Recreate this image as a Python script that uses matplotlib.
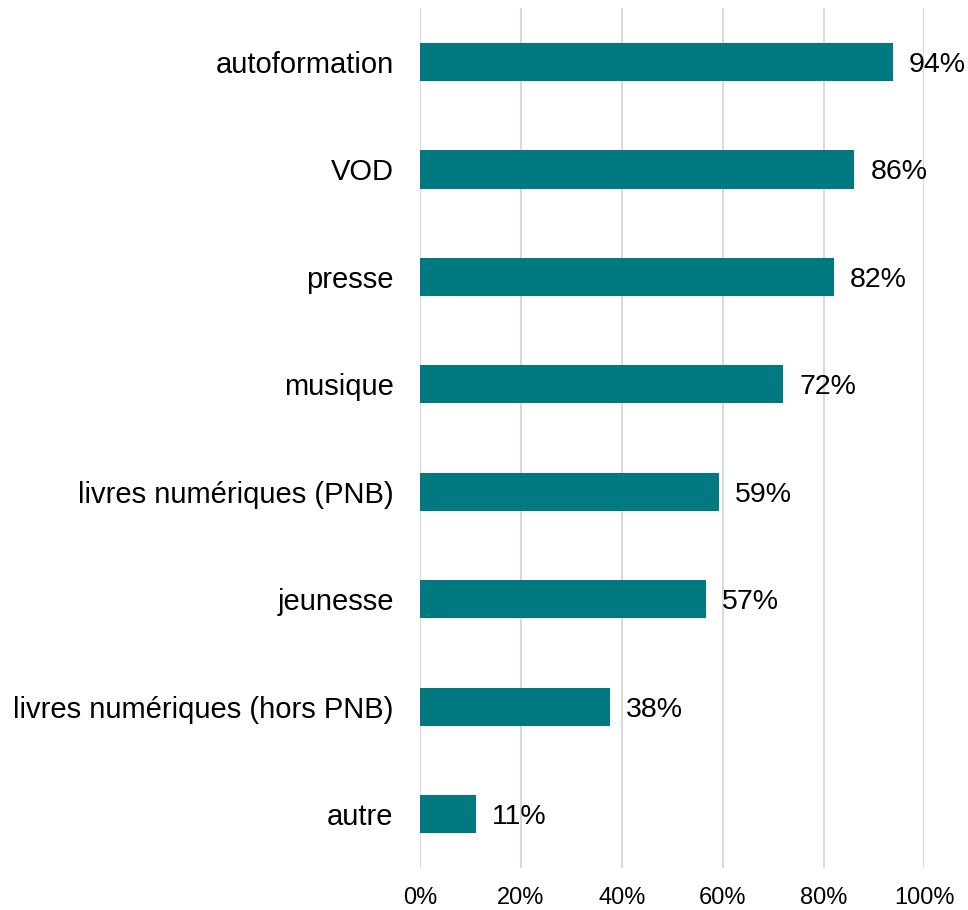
import matplotlib.pyplot as plt

plt.rcParams['font.family'] = ['Liberation Sans', 'DejaVu Sans']

# données (en %)
categories = ["autoformation", "VOD", "presse", "musique",
              "livres numériques (PNB)", "jeunesse",
              "livres numériques (hors PNB)", "autre"]
values = [93.7, 86.1, 82.1, 72.0, 59.3, 56.7, 37.7, 11.1]
labels = ["94%", "86%", "82%", "72%", "59%", "57%", "38%", "11%"]
xticks = [0, 20, 40, 60, 80, 100]

fig = plt.figure(figsize=(9.68, 9.10), dpi=100)
ax = fig.add_axes([0.434, 0.046, 0.521, 0.945])

# ordre inversé : la première catégorie en haut
pos = list(range(len(categories)))[::-1]
ax.barh(pos, values, height=0.355, color='#007A80', zorder=3)

for p, v, lab in zip(pos, values, labels):
    ax.annotate(lab, (v, p), xytext=(11.5, 0), textcoords='offset points',
                va='center_baseline', ha='left', fontsize=20.5, color='#000000')

ax.set_yticks(pos)
ax.set_yticklabels(categories, fontsize=21, va='center_baseline')
ax.set_xticks(xticks)
ax.set_xticklabels([f"{t}%" for t in xticks], fontsize=17)
ax.set_xlim(0, 100)
ax.set_ylim(-0.5, 7.5)

ax.grid(axis='x', color='#D9D9D9', linewidth=1.5, zorder=0)
ax.tick_params(axis='both', length=0)
ax.tick_params(axis='y', pad=19)
ax.tick_params(axis='x', pad=13.5)
for s in ax.spines.values():
    s.set_visible(False)

plt.savefig('out.png', dpi=100)
